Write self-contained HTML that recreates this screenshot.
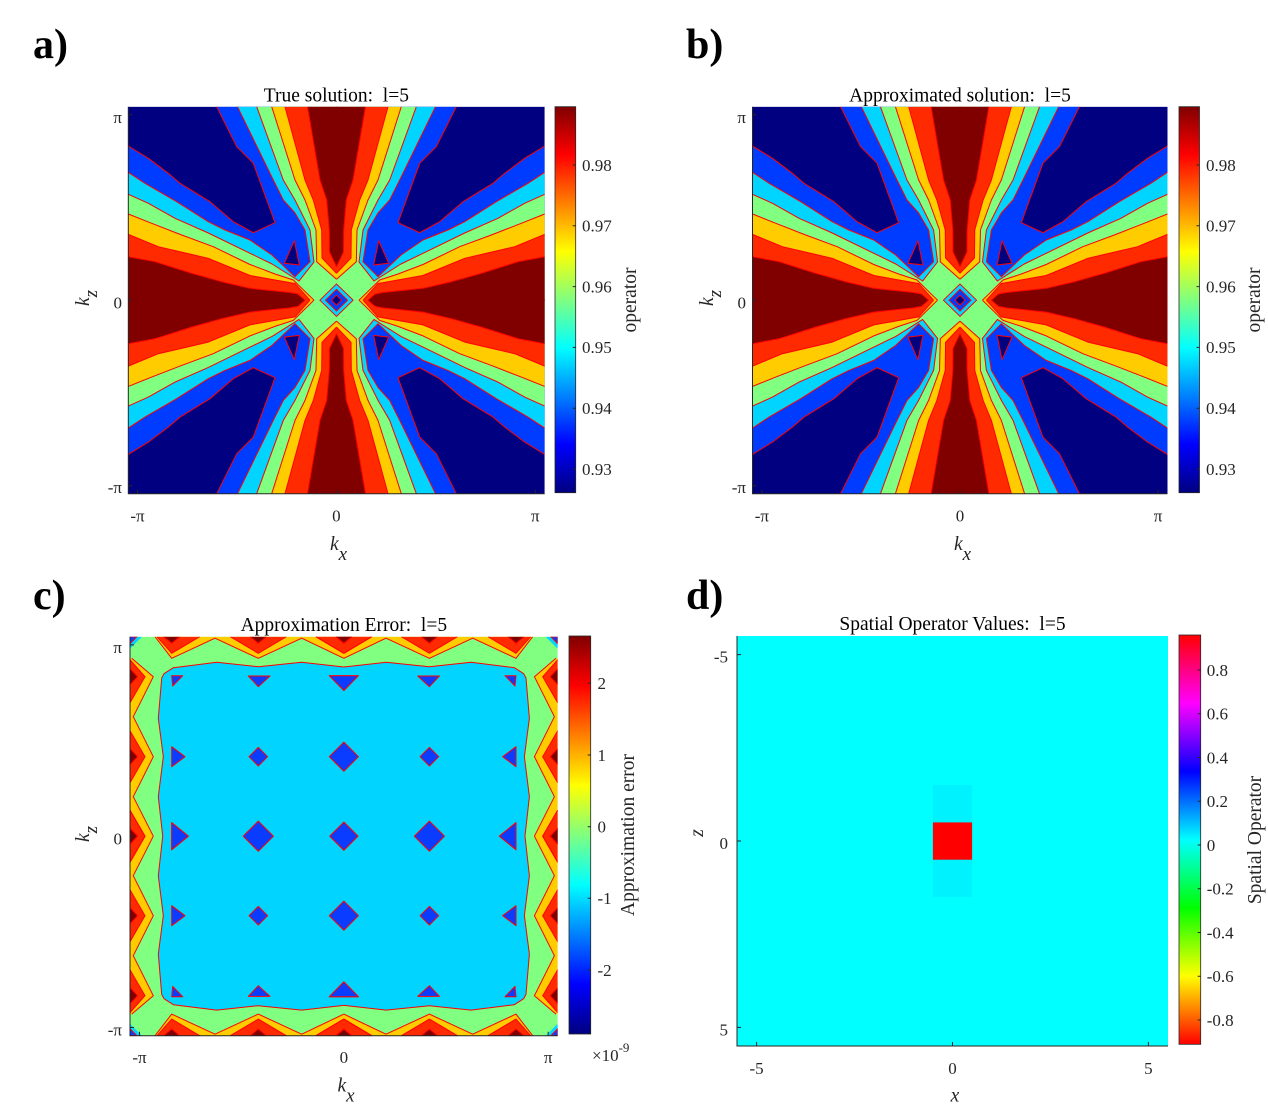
<!DOCTYPE html>
<html><head><meta charset="utf-8">
<style>
html,body{margin:0;padding:0;background:#fff;}
body{width:1268px;height:1107px;overflow:hidden;}
.s{stroke:#ff0000;stroke-width:1;vector-effect:non-scaling-stroke;stroke-linejoin:round;}
.n{fill:none;}
text{font-family:"Liberation Serif","DejaVu Serif",serif;}
.t{font-size:17px;fill:#262626;}
.ti{font-size:19.5px;fill:#000;white-space:pre;}
.lb{font-size:19.5px;fill:#262626;}
.pl{font-size:42px;font-weight:bold;fill:#000;}
.ax{stroke:#262626;stroke-width:1;fill:none;}
</style></head>
<body>
<svg width="1268" height="1107" viewBox="0 0 1268 1107">
<defs>
<linearGradient id="jet" x1="0" y1="1" x2="0" y2="0">
<stop offset="0" stop-color="#000080"/><stop offset="0.125" stop-color="#0000ff"/><stop offset="0.375" stop-color="#00ffff"/><stop offset="0.625" stop-color="#ffff00"/><stop offset="0.875" stop-color="#ff0000"/><stop offset="1" stop-color="#800000"/>
</linearGradient>
<linearGradient id="hsv" x1="0" y1="1" x2="0" y2="0">
<stop offset="0" stop-color="#ff0000"/><stop offset="0.1667" stop-color="#ffff00"/><stop offset="0.3333" stop-color="#00ff00"/><stop offset="0.5" stop-color="#00ffff"/><stop offset="0.6667" stop-color="#0000ff"/><stop offset="0.8333" stop-color="#ff00ff"/><stop offset="1" stop-color="#ff0000"/>
</linearGradient>

<!-- Panel a/b quadrant layers -->
<path id="a1" d="M0,20.31L9.61,26.67L19.21,34.42L24.83,39.59L39.24,49.1L50.43,59.43L60.04,65.12L70.46,59.95L60.04,29.25L52.07,20.67L42.46,0L100.6,0L100.6,100.6L0,100.6Z"/>
<path id="a2" d="M0,33.9L8.02,39.59L23.25,49.1L38.42,59.43L46.45,63.72L58.45,68.89L69.02,76.64L80.07,87.86L87.27,80.1L84.87,63.72L80.07,54.94L74.45,48.22L69.64,37.88L52.45,0L100.6,0L100.6,100.6L0,100.6Z"/>
<path id="a3" d="M0,45.27L9.61,49.92L22.43,57.67L38.42,65.27L58.45,75.76L69.02,81.29L81.99,90.08L89.19,80.26L87.27,63.72L80.07,48.22L74.45,37.88L61.67,0L100.6,0L100.6,100.6L0,100.6Z"/>
<path id="a4" d="M0,55.45L11.24,60.26L25.65,66.3L40.83,72.35L58.45,81.55L70.46,86.46L79.25,89.56L89.19,100L88.6,100.6L0,100.6Z M68.88,0L80.07,37.88L84.87,48.22L90.15,63.72L90.49,80.1L100,89.2L100.6,88.6L100.6,0Z"/>
<path id="a5" d="M0,65.94L14.41,72.35L38.42,78.35L58.45,87.24L80.07,91.37L87.27,100L86.77,100.6L0,100.6Z M75.26,0L84.87,37.88L88.86,48.22L92.89,63.72L93.04,78.19L100,86.1L100.6,85.4L100.6,0Z"/>
<path id="a6" d="M0,77.52L12.82,80.1L30.45,86.1L44.86,90.44L58.45,93.85L77.67,96.02L81.51,96.8L84.87,100L84.24,100.6L0,100.6Z M86.07,0L92.07,37.88L95.29,48.22L96.54,63.72L96.64,75.09L100,82.69L100.6,81.3L100.6,0Z"/>
<path id="a7" class="s" d="M79.73,69.25L74.93,80.93L82.13,81.81Z"/>
<g id="a8">
<path class="s n" d="M0,20.31L9.61,26.67L19.21,34.42L24.83,39.59L39.24,49.1L50.43,59.43L60.04,65.12L70.46,59.95L60.04,29.25L52.07,20.67L42.46,0"/>
<path class="s n" d="M0,33.9L8.02,39.59L23.25,49.1L38.42,59.43L46.45,63.72L58.45,68.89L69.02,76.64L80.07,87.86L87.27,80.1L84.87,63.72L80.07,54.94L74.45,48.22L69.64,37.88L52.45,0"/>
<path class="s n" d="M0,45.27L9.61,49.92L22.43,57.67L38.42,65.27L58.45,75.76L69.02,81.29L81.99,90.08L89.19,80.26L87.27,63.72L80.07,48.22L74.45,37.88L61.67,0"/>
<path class="s n" d="M0,55.45L11.24,60.26L25.65,66.3L40.83,72.35L58.45,81.55L70.46,86.46L79.25,89.56L89.19,100"/>
<path class="s n" d="M68.88,0L80.07,37.88L84.87,48.22L90.15,63.72L90.49,80.1L100,89.2"/>
<path class="s n" d="M0,65.94L14.41,72.35L38.42,78.35L58.45,87.24L80.07,91.37L87.27,100"/>
<path class="s n" d="M75.26,0L84.87,37.88L88.86,48.22L92.89,63.72L93.04,78.19L100,86.1"/>
<path class="s n" d="M0,77.52L12.82,80.1L30.45,86.1L44.86,90.44L58.45,93.85L77.67,96.02L81.51,96.8L84.87,100"/>
<path class="s n" d="M86.07,0L92.07,37.88L95.29,48.22L96.54,63.72L96.64,75.09L100,82.69"/>
</g>
<g id="A">
<rect width="200" height="200" fill="#000080"/>
<g fill="#003cff"><use href="#a1"/><use href="#a1" transform="matrix(-1 0 0 1 200 0)"/><use href="#a1" transform="matrix(1 0 0 -1 0 200)"/><use href="#a1" transform="matrix(-1 0 0 -1 200 200)"/></g>
<g fill="#00d4ff"><use href="#a2"/><use href="#a2" transform="matrix(-1 0 0 1 200 0)"/><use href="#a2" transform="matrix(1 0 0 -1 0 200)"/><use href="#a2" transform="matrix(-1 0 0 -1 200 200)"/></g>
<g fill="#80ff80"><use href="#a3"/><use href="#a3" transform="matrix(-1 0 0 1 200 0)"/><use href="#a3" transform="matrix(1 0 0 -1 0 200)"/><use href="#a3" transform="matrix(-1 0 0 -1 200 200)"/></g>
<g fill="#ffcc00"><use href="#a4"/><use href="#a4" transform="matrix(-1 0 0 1 200 0)"/><use href="#a4" transform="matrix(1 0 0 -1 0 200)"/><use href="#a4" transform="matrix(-1 0 0 -1 200 200)"/></g>
<g fill="#ff2a00"><use href="#a5"/><use href="#a5" transform="matrix(-1 0 0 1 200 0)"/><use href="#a5" transform="matrix(1 0 0 -1 0 200)"/><use href="#a5" transform="matrix(-1 0 0 -1 200 200)"/></g>
<g fill="#800000"><use href="#a6"/><use href="#a6" transform="matrix(-1 0 0 1 200 0)"/><use href="#a6" transform="matrix(1 0 0 -1 0 200)"/><use href="#a6" transform="matrix(-1 0 0 -1 200 200)"/></g>
<g fill="#000080"><use href="#a7"/><use href="#a7" transform="matrix(-1 0 0 1 200 0)"/><use href="#a7" transform="matrix(1 0 0 -1 0 200)"/><use href="#a7" transform="matrix(-1 0 0 -1 200 200)"/></g>
<g><use href="#a8"/><use href="#a8" transform="matrix(-1 0 0 1 200 0)"/><use href="#a8" transform="matrix(1 0 0 -1 0 200)"/><use href="#a8" transform="matrix(-1 0 0 -1 200 200)"/></g>
<path fill="#00d4ff" class="s" d="M92,100L100,91.6L108,100L100,108.4Z"/>
<path fill="#003cff" class="s" d="M94.7,100L100,94.4L105.3,100L100,105.6Z"/>
<path fill="#000080" class="s" d="M97.6,100L100,97.4L102.4,100L100,102.6Z"/>
</g>

<!-- Panel c quadrant layers -->
<path id="c1" d="M25,0L41.7,21.6L85,1.5L128.3,21.6L171.7,1.5L213.85,21.6L214.85,21.1L214.85,0Z M0,21.6L1.7,21.6L23.3,40L3.3,80L23.3,120L3.3,160L23.3,199.5L22.8,200.5L0,200.5Z"/>
<path id="c2" d="M27,0L41.7,16.6L69.7,0Z M100.3,0L128.3,16.6L156.3,0Z M185.85,0L213.85,16.6L241.85,0Z M0,23L15,40L0,66Z M0,94L15,120L0,146Z M0,173.5L15,199.5L0,225.5Z"/>
<path id="c3" d="M33.7,0L41.7,6.6L49.7,0Z M120.3,0L128.3,6.6L136.3,0Z M205.85,0L213.85,6.6L221.85,0Z M0,32L7.5,40L0,48Z M0,112L7.5,120L0,128Z M0,191.5L7.5,199.5L0,207.5Z"/>
<path id="c4" d="M31.7,41.3L34,37L43.3,31L86.7,25.6L128.3,30L171.7,25.6L213.85,30.3L214.85,30.3L214.85,200.5L32.7,200.5L32.7,199.5L28.3,160L33.3,120L28.3,81.6Z"/>
<path id="c5" d="M0,0L12,0L0,12Z"/>
<path id="c6" class="s" d="M0,0L7,0L0,7Z"/>
<g id="c7">
<path class="s n" d="M25,0L41.7,21.6L85,1.5L128.3,21.6L171.7,1.5L213.85,21.6"/>
<path class="s n" d="M1.7,21.6L23.3,40L3.3,80L23.3,120L3.3,160L23.3,199.5"/>
<path class="s n" d="M27,0L41.7,16.6L69.7,0 M100.3,0L128.3,16.6L156.3,0 M185.85,0L213.85,16.6L241.85,0"/>
<path class="s n" d="M0,23L15,40L0,66 M0,94L15,120L0,146 M0,173.5L15,199.5L0,225.5"/>
<path class="s n" d="M33.7,0L41.7,6.6L49.7,0 M120.3,0L128.3,6.6L136.3,0 M205.85,0L213.85,6.6L221.85,0"/>
<path class="s n" d="M0,32L7.5,40L0,48 M0,112L7.5,120L0,128 M0,191.5L7.5,199.5L0,207.5"/>
<path class="s n" d="M32.7,199.5L28.3,160L33.3,120L28.3,81.6L31.7,41.3L34,37L43.3,31L86.7,25.6L128.3,30L171.7,25.6L213.85,30.3"/>
</g>
<g id="c8" fill="#0a3cff">
<path class="s" d="M41.7,39L52.7,39L42.7,49.3Z"/>
<path class="s" d="M118.3,39.3L140,39.3L128.3,50Z"/>
<path class="s" d="M199.3,39L228.4,39L213.85,53.8Z"/>
<path class="s" d="M41.7,110L41.7,130L55,120Z"/>
<path class="s" d="M41.7,186L41.7,213L58.3,199.5Z"/>
<path class="s" d="M119,120L128.3,110.7L137.6,120L128.3,129.3Z"/>
<path class="s" d="M199.35,120L213.85,105.5L228.35,120L213.85,134.5Z"/>
<path class="s" d="M113.3,199.5L128.3,184.5L143.3,199.5L128.3,214.5Z"/>
<path class="s" d="M199.85,199.5L213.85,185.5L227.85,199.5L213.85,213.5Z"/>
</g>
</defs>

<!-- Panel labels -->
<text class="pl" x="33" y="58">a)</text>
<text class="pl" x="686" y="58">b)</text>
<text class="pl" x="33" y="609">c)</text>
<text class="pl" x="686" y="609">d)</text>

<!-- ===== Panel a ===== -->
<text class="ti" x="336.4" y="101.7" text-anchor="middle">True solution:  l=5</text>
<svg x="128.3" y="106.7" width="416.4" height="387" viewBox="0 0 200 200" preserveAspectRatio="none">
<use href="#A"/>
</svg>
<path class="ax" d="M128.3,106.7V493.7H544.7"/>
<path class="ax" d="M128.3,114.7h4M128.3,300.2h4M128.3,485.7h4M137.5,493.7v-4M336.4,493.7v-4M535.3,493.7v-4"/>
<text class="t" x="122" y="123" text-anchor="end">π</text>
<text class="t" x="122" y="308.3" text-anchor="end">0</text>
<text class="t" x="122" y="493" text-anchor="end">-π</text>
<text class="t" x="137.5" y="521.7" text-anchor="middle">-π</text>
<text class="t" x="336.4" y="521.7" text-anchor="middle">0</text>
<text class="t" x="535.3" y="521.7" text-anchor="middle">π</text>
<text class="lb" x="330" y="550" font-style="italic" font-size="21">k<tspan dy="10" font-size="19">x</tspan></text>
<text class="lb" transform="translate(89,306) rotate(-90)" font-style="italic" font-size="21">k<tspan dy="8" font-size="19">z</tspan></text>
<rect x="555" y="106.7" width="20.7" height="386" fill="url(#jet)" stroke="#262626" stroke-width="0.8"/>
<path class="ax" d="M572.7,165h3M572.7,225.8h3M572.7,286.6h3M572.7,347.4h3M572.7,408.2h3M572.7,469h3"/>
<text class="t" x="582" y="170.8">0.98</text>
<text class="t" x="582" y="231.6">0.97</text>
<text class="t" x="582" y="292.4">0.96</text>
<text class="t" x="582" y="353.2">0.95</text>
<text class="t" x="582" y="414">0.94</text>
<text class="t" x="582" y="474.8">0.93</text>
<text class="lb" transform="translate(636,300) rotate(-90)" text-anchor="middle">operator</text>

<!-- ===== Panel b ===== -->
<text class="ti" x="960" y="101.7" text-anchor="middle">Approximated solution:  l=5</text>
<svg x="752.5" y="106.7" width="415" height="387" viewBox="0 0 200 200" preserveAspectRatio="none">
<use href="#A"/>
</svg>
<path class="ax" d="M752.5,106.7V493.7H1167.5"/>
<path class="ax" d="M752.5,114.7h4M752.5,300.2h4M752.5,485.7h4M761.9,493.7v-4M960,493.7v-4M1158.1,493.7v-4"/>
<text class="t" x="746" y="123" text-anchor="end">π</text>
<text class="t" x="746" y="308.3" text-anchor="end">0</text>
<text class="t" x="746" y="493" text-anchor="end">-π</text>
<text class="t" x="761.9" y="521.7" text-anchor="middle">-π</text>
<text class="t" x="960" y="521.7" text-anchor="middle">0</text>
<text class="t" x="1158.1" y="521.7" text-anchor="middle">π</text>
<text class="lb" x="954" y="550" font-style="italic" font-size="21">k<tspan dy="10" font-size="19">x</tspan></text>
<text class="lb" transform="translate(713,306) rotate(-90)" font-style="italic" font-size="21">k<tspan dy="8" font-size="19">z</tspan></text>
<rect x="1179" y="106.7" width="20.5" height="386" fill="url(#jet)" stroke="#262626" stroke-width="0.8"/>
<path class="ax" d="M1196.5,165h3M1196.5,225.8h3M1196.5,286.6h3M1196.5,347.4h3M1196.5,408.2h3M1196.5,469h3"/>
<text class="t" x="1206" y="170.8">0.98</text>
<text class="t" x="1206" y="231.6">0.97</text>
<text class="t" x="1206" y="292.4">0.96</text>
<text class="t" x="1206" y="353.2">0.95</text>
<text class="t" x="1206" y="414">0.94</text>
<text class="t" x="1206" y="474.8">0.93</text>
<text class="lb" transform="translate(1260,300) rotate(-90)" text-anchor="middle">operator</text>

<!-- ===== Panel c ===== -->
<text class="ti" x="343.85" y="631" text-anchor="middle">Approximation Error:  l=5</text>
<svg x="130" y="636.7" width="427.7" height="399" viewBox="0 0 427.7 399" preserveAspectRatio="none">
<rect width="427.7" height="399" fill="#80ff80"/>
<g fill="#ffcc00"><use href="#c1"/><use href="#c1" transform="matrix(-1 0 0 1 427.7 0)"/><use href="#c1" transform="matrix(1 0 0 -1 0 399)"/><use href="#c1" transform="matrix(-1 0 0 -1 427.7 399)"/></g>
<g fill="#ff2a00"><use href="#c2"/><use href="#c2" transform="matrix(-1 0 0 1 427.7 0)"/><use href="#c2" transform="matrix(1 0 0 -1 0 399)"/><use href="#c2" transform="matrix(-1 0 0 -1 427.7 399)"/></g>
<g fill="#800000"><use href="#c3"/><use href="#c3" transform="matrix(-1 0 0 1 427.7 0)"/><use href="#c3" transform="matrix(1 0 0 -1 0 399)"/><use href="#c3" transform="matrix(-1 0 0 -1 427.7 399)"/></g>
<g fill="#00d4ff"><use href="#c4"/><use href="#c4" transform="matrix(-1 0 0 1 427.7 0)"/><use href="#c4" transform="matrix(1 0 0 -1 0 399)"/><use href="#c4" transform="matrix(-1 0 0 -1 427.7 399)"/></g>
<g fill="#00d4ff"><use href="#c5"/><use href="#c5" transform="matrix(-1 0 0 1 427.7 0)"/><use href="#c5" transform="matrix(1 0 0 -1 0 399)"/><use href="#c5" transform="matrix(-1 0 0 -1 427.7 399)"/></g>
<g fill="#0a3cff"><use href="#c6"/><use href="#c6" transform="matrix(-1 0 0 1 427.7 0)"/><use href="#c6" transform="matrix(1 0 0 -1 0 399)"/><use href="#c6" transform="matrix(-1 0 0 -1 427.7 399)"/></g>
<g><use href="#c7"/><use href="#c7" transform="matrix(-1 0 0 1 427.7 0)"/><use href="#c7" transform="matrix(1 0 0 -1 0 399)"/><use href="#c7" transform="matrix(-1 0 0 -1 427.7 399)"/></g>
<g><use href="#c8"/><use href="#c8" transform="matrix(-1 0 0 1 427.7 0)"/><use href="#c8" transform="matrix(1 0 0 -1 0 399)"/><use href="#c8" transform="matrix(-1 0 0 -1 427.7 399)"/></g>
</svg>
<path class="ax" d="M130,636.7V1035.7H557.7"/>
<path class="ax" d="M130,644.9h4M130,836.2h4M130,1027.5h4M139.5,1035.7v-4M343.85,1035.7v-4M548.2,1035.7v-4"/>
<text class="t" x="122" y="653.2" text-anchor="end">π</text>
<text class="t" x="122" y="844.3" text-anchor="end">0</text>
<text class="t" x="122" y="1035.5" text-anchor="end">-π</text>
<text class="t" x="139.5" y="1063" text-anchor="middle">-π</text>
<text class="t" x="343.85" y="1063" text-anchor="middle">0</text>
<text class="t" x="548.2" y="1063" text-anchor="middle">π</text>
<text class="lb" x="337.5" y="1091.4" font-style="italic" font-size="21">k<tspan dy="10" font-size="19">x</tspan></text>
<text class="lb" transform="translate(89,842) rotate(-90)" font-style="italic" font-size="21">k<tspan dy="8" font-size="19">z</tspan></text>
<rect x="569" y="636" width="21.7" height="398" fill="url(#jet)" stroke="#262626" stroke-width="0.8"/>
<path class="ax" d="M587.7,683.3h3M587.7,755h3M587.7,826.7h3M587.7,898.3h3M587.7,970h3"/>
<text class="t" x="597.5" y="689.1">2</text>
<text class="t" x="597.5" y="760.8">1</text>
<text class="t" x="597.5" y="832.5">0</text>
<text class="t" x="597.5" y="904.1">-1</text>
<text class="t" x="597.5" y="975.8">-2</text>
<text class="t" x="592" y="1061">×10<tspan dy="-9" font-size="13">-9</tspan></text>
<text class="lb" transform="translate(634,835) rotate(-90)" text-anchor="middle">Approximation error</text>

<!-- ===== Panel d ===== -->
<text class="ti" x="952.5" y="630" text-anchor="middle">Spatial Operator Values:  l=5</text>
<rect x="737" y="636" width="431" height="410" fill="#00ffff"/>
<rect x="932.9" y="785.1" width="39.2" height="111.8" fill="#00f2ff"/>
<rect x="932.9" y="822.4" width="39.2" height="37.3" fill="#ff0000"/>
<path class="ax" d="M737,636V1046H1168"/>
<path class="ax" d="M737,654.6h4M737,841h4M737,1027.4h4M756.6,1046v-4M952.5,1046v-4M1148.4,1046v-4"/>
<text class="t" x="728" y="662.6" text-anchor="end">-5</text>
<text class="t" x="728" y="849" text-anchor="end">0</text>
<text class="t" x="728" y="1035.4" text-anchor="end">5</text>
<text class="t" x="756.6" y="1074" text-anchor="middle">-5</text>
<text class="t" x="952.5" y="1074" text-anchor="middle">0</text>
<text class="t" x="1148.4" y="1074" text-anchor="middle">5</text>
<text class="lb" x="955" y="1101.5" font-style="italic" font-size="21" text-anchor="middle">x</text>
<text class="lb" transform="translate(703,833) rotate(-90)" font-style="italic" font-size="21" text-anchor="middle">z</text>
<rect x="1179" y="635" width="21.7" height="409.3" fill="url(#hsv)" stroke="#262626" stroke-width="0.8"/>
<path class="ax" d="M1197.7,670h3M1197.7,713.75h3M1197.7,757.5h3M1197.7,801.25h3M1197.7,845h3M1197.7,888.75h3M1197.7,932.5h3M1197.7,976.25h3M1197.7,1020h3"/>
<text class="t" x="1206.7" y="675.8">0.8</text>
<text class="t" x="1206.7" y="719.55">0.6</text>
<text class="t" x="1206.7" y="763.3">0.4</text>
<text class="t" x="1206.7" y="807.05">0.2</text>
<text class="t" x="1206.7" y="850.8">0</text>
<text class="t" x="1206.7" y="894.55">-0.2</text>
<text class="t" x="1206.7" y="938.3">-0.4</text>
<text class="t" x="1206.7" y="982.05">-0.6</text>
<text class="t" x="1206.7" y="1025.8">-0.8</text>
<text class="lb" transform="translate(1261,840) rotate(-90)" text-anchor="middle">Spatial Operator</text>
</svg>
</body></html>
